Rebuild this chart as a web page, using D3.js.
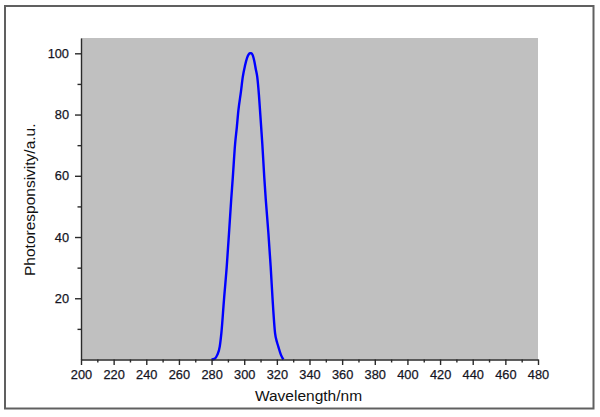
<!DOCTYPE html>
<html>
<head>
<meta charset="utf-8">
<script src="https://cdn.jsdelivr.net/npm/d3@7"></script>
<style>
  body { margin: 0; background: #fff; }
  svg { display: block; font-family: Arial, "Liberation Sans", sans-serif; }
</style>
</head>
<body>
<div id="grafico"></div>
<script>
// dados
const comprimento_onda = [280, 282, 283.5, 285, 286, 287.6, 289.3, 290.7, 292, 293, 294.4, 295.5, 296.4,
  298, 299.1, 300.5, 301.8, 302.8, 303.6, 304.4, 305.2, 306.2, 307.1, 308, 309, 309.7, 310.4, 311.1,
  312.3, 313.2, 314.8, 316.2, 317.4, 318.9, 320, 320.9, 322.5, 324];
const fotoresposta = [0, 0.3, 1.5, 4.2, 8.6, 19.5, 30.4, 41.4, 52, 59.4, 70.3, 76, 81.2,
  87.5, 92.2, 96, 98.6, 99.7, 100, 100, 99.4, 97.4, 94.8, 92.2, 86.5, 81.2, 75.8, 70.3,
  59.4, 52.3, 41.4, 30.4, 19.5, 8.6, 5.8, 4.2, 1.5, 0];

const ticks_x = d3.range(200, 481, 20);
const ticks_x_menor = d3.range(210, 480, 20);
const ticks_y = [20, 40, 60, 80, 100];
const ticks_y_menor = [10, 30, 50, 70, 90];

const largura = 600, altura = 417;
const margem = { superior: 38, inferior: 57.5, direita: 62, esquerda: 81 };

const svg = d3.select("#grafico").append("svg")
    .attr("width", largura)
    .attr("height", altura)
    .attr("viewBox", [0, 0, largura, altura]);

// moldura externa
svg.append("rect")
    .attr("x", 5).attr("y", 6)
    .attr("width", 588.5).attr("height", 402.5)
    .attr("fill", "#fff")
    .attr("stroke", "#606060")
    .attr("stroke-width", 2);

const x = d3.scaleLinear([200, 480], [margem.esquerda, largura - margem.direita]);
const y = d3.scaleLinear([0, 105], [altura - margem.inferior, margem.superior]);

// fundo cinza da area do grafico
svg.append("rect")
    .attr("x", x(200)).attr("y", y(105))
    .attr("width", x(480) - x(200))
    .attr("height", y(0) - y(105))
    .attr("fill", "#c0c0c0");

// curva
const dados = d3.zip(comprimento_onda, fotoresposta);
svg.append("path")
    .datum(dados)
    .attr("fill", "none")
    .attr("stroke", "#0000ff")
    .attr("stroke-width", 2.4)
    .attr("stroke-linejoin", "round")
    .attr("d", d3.line().x(d => x(d[0])).y(d => y(d[1])).curve(d3.curveMonotoneX));

// EIXO X
const eixo_x = svg.append("g")
    .attr("class", "eixo_x")
    .attr("transform", `translate(0,${y(0)})`)
    .call(d3.axisBottom(x).tickValues(ticks_x).tickSize(5.5).tickSizeOuter(0).tickPadding(4.5));
eixo_x.append("g")
    .call(d3.axisBottom(x).tickValues(ticks_x_menor).tickSize(3).tickFormat(""))
    .call(g => g.select(".domain").remove());

// EIXO Y
const eixo_y = svg.append("g")
    .attr("class", "eixo_y")
    .attr("transform", `translate(${x(200)},0)`)
    .call(d3.axisLeft(y).tickValues(ticks_y).tickSize(6).tickSizeOuter(0).tickPadding(6));
eixo_y.append("g")
    .call(d3.axisLeft(y).tickValues(ticks_y_menor).tickSize(3.5).tickFormat(""))
    .call(g => g.select(".domain").remove());

svg.selectAll(".eixo_x .domain, .eixo_y .domain, .tick line")
    .attr("stroke", "#2a2a2a")
    .attr("stroke-width", 1.4);
svg.selectAll(".tick text")
    .attr("fill", "#15151f")
    .attr("font-size", 12.8)
    .attr("stroke", "#15151f")
    .attr("stroke-width", 0.25)
    .attr("font-family", "Arial, 'Liberation Sans', sans-serif");

// rotulos
svg.append("text")
    .attr("x", 308.5).attr("y", 401)
    .attr("text-anchor", "middle")
    .attr("font-size", 15.5)
    .attr("fill", "#111")
    .text("Wavelength/nm");

svg.append("text")
    .attr("transform", `translate(35,${(y(0) + y(105)) / 2 + 1}) rotate(-90)`)
    .attr("text-anchor", "middle")
    .attr("font-size", 15.5)
    .attr("fill", "#111")
    .text("Photoresponsivity/a.u.");
</script>
</body>
</html>
